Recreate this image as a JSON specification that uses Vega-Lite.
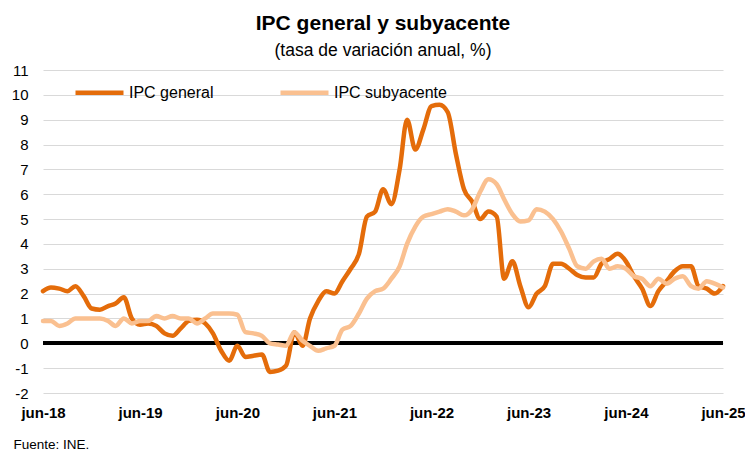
{
  "$schema": "https://vega.github.io/schema/vega-lite/v6.json",
  "width": 680,
  "height": 323,
  "autosize": "none",
  "padding": {"left": 43, "top": 70, "right": 22, "bottom": 59},
  "background": "white",
  "config": {"font": "Liberation Sans", "view": {"stroke": null}},
  "title": {
    "text": "IPC general y subyacente",
    "subtitle": "(tasa de variación anual, %)",
    "anchor": "middle",
    "fontSize": 21,
    "fontWeight": "bold",
    "color": "#000",
    "subtitleFontSize": 17.5,
    "subtitleColor": "#000",
    "subtitlePadding": 8,
    "offset": 4
  },
  "data": {
    "values": [
      {"fecha": "2018-06-01", "IPC general": 2.1, "IPC subyacente": 0.9},
      {"fecha": "2018-07-01", "IPC general": 2.25, "IPC subyacente": 0.9},
      {"fecha": "2018-08-01", "IPC general": 2.2, "IPC subyacente": 0.7},
      {"fecha": "2018-09-01", "IPC general": 2.1, "IPC subyacente": 0.8},
      {"fecha": "2018-10-01", "IPC general": 2.3, "IPC subyacente": 1.0},
      {"fecha": "2018-11-01", "IPC general": 1.9, "IPC subyacente": 1.0},
      {"fecha": "2018-12-01", "IPC general": 1.4, "IPC subyacente": 1.0},
      {"fecha": "2019-01-01", "IPC general": 1.35, "IPC subyacente": 1.0},
      {"fecha": "2019-02-01", "IPC general": 1.5, "IPC subyacente": 0.9},
      {"fecha": "2019-03-01", "IPC general": 1.6, "IPC subyacente": 0.7},
      {"fecha": "2019-04-01", "IPC general": 1.85, "IPC subyacente": 1.0},
      {"fecha": "2019-05-01", "IPC general": 1.0, "IPC subyacente": 0.8},
      {"fecha": "2019-06-01", "IPC general": 0.75, "IPC subyacente": 0.9},
      {"fecha": "2019-07-01", "IPC general": 0.8, "IPC subyacente": 0.9},
      {"fecha": "2019-08-01", "IPC general": 0.7, "IPC subyacente": 1.1},
      {"fecha": "2019-09-01", "IPC general": 0.4, "IPC subyacente": 1.0},
      {"fecha": "2019-10-01", "IPC general": 0.3, "IPC subyacente": 1.1},
      {"fecha": "2019-11-01", "IPC general": 0.6, "IPC subyacente": 1.0},
      {"fecha": "2019-12-01", "IPC general": 0.9, "IPC subyacente": 1.0},
      {"fecha": "2020-01-01", "IPC general": 0.95, "IPC subyacente": 0.8},
      {"fecha": "2020-02-01", "IPC general": 0.8, "IPC subyacente": 1.0},
      {"fecha": "2020-03-01", "IPC general": 0.4, "IPC subyacente": 1.2},
      {"fecha": "2020-04-01", "IPC general": -0.3, "IPC subyacente": 1.2},
      {"fecha": "2020-05-01", "IPC general": -0.7, "IPC subyacente": 1.2},
      {"fecha": "2020-06-01", "IPC general": -0.1, "IPC subyacente": 1.15},
      {"fecha": "2020-07-01", "IPC general": -0.55, "IPC subyacente": 0.45},
      {"fecha": "2020-08-01", "IPC general": -0.5, "IPC subyacente": 0.4},
      {"fecha": "2020-09-01", "IPC general": -0.45, "IPC subyacente": 0.3},
      {"fecha": "2020-10-01", "IPC general": -1.15, "IPC subyacente": 0.0},
      {"fecha": "2020-11-01", "IPC general": -1.1, "IPC subyacente": -0.05},
      {"fecha": "2020-12-01", "IPC general": -0.9, "IPC subyacente": -0.1},
      {"fecha": "2021-01-01", "IPC general": 0.45, "IPC subyacente": 0.45},
      {"fecha": "2021-02-01", "IPC general": -0.1, "IPC subyacente": 0.1},
      {"fecha": "2021-03-01", "IPC general": 1.0, "IPC subyacente": -0.1},
      {"fecha": "2021-04-01", "IPC general": 1.7, "IPC subyacente": -0.3},
      {"fecha": "2021-05-01", "IPC general": 2.1, "IPC subyacente": -0.2},
      {"fecha": "2021-06-01", "IPC general": 2.0, "IPC subyacente": -0.1},
      {"fecha": "2021-07-01", "IPC general": 2.5, "IPC subyacente": 0.55},
      {"fecha": "2021-08-01", "IPC general": 3.0, "IPC subyacente": 0.7},
      {"fecha": "2021-09-01", "IPC general": 3.6, "IPC subyacente": 1.2},
      {"fecha": "2021-10-01", "IPC general": 5.1, "IPC subyacente": 1.8},
      {"fecha": "2021-11-01", "IPC general": 5.3, "IPC subyacente": 2.1},
      {"fecha": "2021-12-01", "IPC general": 6.2, "IPC subyacente": 2.2},
      {"fecha": "2022-01-01", "IPC general": 5.6, "IPC subyacente": 2.6},
      {"fecha": "2022-02-01", "IPC general": 7.0, "IPC subyacente": 3.1},
      {"fecha": "2022-03-01", "IPC general": 9.0, "IPC subyacente": 4.0},
      {"fecha": "2022-04-01", "IPC general": 7.8, "IPC subyacente": 4.7},
      {"fecha": "2022-05-01", "IPC general": 8.6, "IPC subyacente": 5.1},
      {"fecha": "2022-06-01", "IPC general": 9.55, "IPC subyacente": 5.2},
      {"fecha": "2022-07-01", "IPC general": 9.6, "IPC subyacente": 5.3},
      {"fecha": "2022-08-01", "IPC general": 9.3, "IPC subyacente": 5.4},
      {"fecha": "2022-09-01", "IPC general": 7.6, "IPC subyacente": 5.3},
      {"fecha": "2022-10-01", "IPC general": 6.2, "IPC subyacente": 5.15},
      {"fecha": "2022-11-01", "IPC general": 5.7, "IPC subyacente": 5.4},
      {"fecha": "2022-12-01", "IPC general": 5.0, "IPC subyacente": 6.1},
      {"fecha": "2023-01-01", "IPC general": 5.3, "IPC subyacente": 6.6},
      {"fecha": "2023-02-01", "IPC general": 5.1, "IPC subyacente": 6.4},
      {"fecha": "2023-03-01", "IPC general": 2.6, "IPC subyacente": 5.8},
      {"fecha": "2023-04-01", "IPC general": 3.3, "IPC subyacente": 5.2},
      {"fecha": "2023-05-01", "IPC general": 2.3, "IPC subyacente": 4.9},
      {"fecha": "2023-06-01", "IPC general": 1.45, "IPC subyacente": 4.95},
      {"fecha": "2023-07-01", "IPC general": 2.0, "IPC subyacente": 5.4},
      {"fecha": "2023-08-01", "IPC general": 2.3, "IPC subyacente": 5.3},
      {"fecha": "2023-09-01", "IPC general": 3.2, "IPC subyacente": 5.0},
      {"fecha": "2023-10-01", "IPC general": 3.2, "IPC subyacente": 4.5},
      {"fecha": "2023-11-01", "IPC general": 3.0, "IPC subyacente": 3.8},
      {"fecha": "2023-12-01", "IPC general": 2.75, "IPC subyacente": 3.1},
      {"fecha": "2024-01-01", "IPC general": 2.65, "IPC subyacente": 3.0},
      {"fecha": "2024-02-01", "IPC general": 2.65, "IPC subyacente": 3.3},
      {"fecha": "2024-03-01", "IPC general": 3.2, "IPC subyacente": 3.4},
      {"fecha": "2024-04-01", "IPC general": 3.4, "IPC subyacente": 3.0},
      {"fecha": "2024-05-01", "IPC general": 3.6, "IPC subyacente": 3.1},
      {"fecha": "2024-06-01", "IPC general": 3.3, "IPC subyacente": 3.0},
      {"fecha": "2024-07-01", "IPC general": 2.7, "IPC subyacente": 2.7},
      {"fecha": "2024-08-01", "IPC general": 2.2, "IPC subyacente": 2.6},
      {"fecha": "2024-09-01", "IPC general": 1.5, "IPC subyacente": 2.3},
      {"fecha": "2024-10-01", "IPC general": 2.1, "IPC subyacente": 2.6},
      {"fecha": "2024-11-01", "IPC general": 2.5, "IPC subyacente": 2.4},
      {"fecha": "2024-12-01", "IPC general": 2.9, "IPC subyacente": 2.6},
      {"fecha": "2025-01-01", "IPC general": 3.1, "IPC subyacente": 2.7},
      {"fecha": "2025-02-01", "IPC general": 3.1, "IPC subyacente": 2.3},
      {"fecha": "2025-03-01", "IPC general": 2.3, "IPC subyacente": 2.2},
      {"fecha": "2025-04-01", "IPC general": 2.2, "IPC subyacente": 2.5},
      {"fecha": "2025-05-01", "IPC general": 2.0, "IPC subyacente": 2.4},
      {"fecha": "2025-06-01", "IPC general": 2.3, "IPC subyacente": 2.25}
    ]
  },
  "transform": [{"fold": ["IPC general", "IPC subyacente"], "as": ["serie", "valor"]}],
  "layer": [
    {
      "mark": {"type": "rule", "color": "#000", "strokeWidth": 3},
      "encoding": {
        "y": {
          "datum": 0,
          "type": "quantitative",
          "scale": {"domain": [-2, 11], "nice": false},
          "axis": {
            "values": [-2, -1, 0, 1, 2, 3, 4, 5, 6, 7, 8, 9, 10, 11],
            "labelExpr": "datum.value < 0 ? '-' + abs(datum.value) : '' + datum.value",
            "labelOverlap": false,
            "grid": true,
            "gridColor": "#d9d9d9",
            "gridWidth": 1.2,
            "ticks": false,
            "domain": false,
            "labelFontSize": 15,
            "labelColor": "#000",
            "labelPadding": 15,
            "title": null
          }
        }
      }
    },
    {
      "mark": {"type": "line", "strokeWidth": 4.5, "interpolate": "monotone", "strokeCap": "round", "strokeJoin": "round"},
      "encoding": {
        "x": {
          "field": "fecha",
          "type": "temporal",
          "scale": {"type": "utc", "domain": [{"year": 2018, "month": 6, "date": 1, "utc": true}, {"year": 2025, "month": 6, "date": 1, "utc": true}]},
          "axis": {
            "values": [
              {"year": 2018, "month": 6, "date": 1, "utc": true},
              {"year": 2019, "month": 6, "date": 1, "utc": true},
              {"year": 2020, "month": 6, "date": 1, "utc": true},
              {"year": 2021, "month": 6, "date": 1, "utc": true},
              {"year": 2022, "month": 6, "date": 1, "utc": true},
              {"year": 2023, "month": 6, "date": 1, "utc": true},
              {"year": 2024, "month": 6, "date": 1, "utc": true},
              {"year": 2025, "month": 6, "date": 1, "utc": true}
            ],
            "labelExpr": "'jun-' + utcFormat(datum.value, '%y')",
            "labelFontWeight": "bold",
            "labelFontSize": 15,
            "labelColor": "#000",
            "labelFlush": false,
            "labelOverlap": false,
            "labelPadding": 12,
            "ticks": false,
            "domain": false,
            "grid": false,
            "title": "Fuente: INE.",
            "titleFontSize": 13.5,
            "titleFontWeight": "normal",
            "titleColor": "#000",
            "titleAnchor": "start",
            "titleAlign": "left",
            "titleBaseline": "middle",
            "titleX": -30,
            "titleY": 51
          }
        },
        "y": {
          "field": "valor",
          "type": "quantitative",
          "scale": {"domain": [-2, 11], "nice": false},
          "axis": {
            "values": [-2, -1, 0, 1, 2, 3, 4, 5, 6, 7, 8, 9, 10, 11],
            "labelExpr": "datum.value < 0 ? '-' + abs(datum.value) : '' + datum.value",
            "labelOverlap": false,
            "grid": true,
            "gridColor": "#d9d9d9",
            "gridWidth": 1.2,
            "ticks": false,
            "domain": false,
            "labelFontSize": 15,
            "labelColor": "#000",
            "labelPadding": 15,
            "title": null
          }
        },
        "color": {
          "field": "serie",
          "type": "nominal",
          "scale": {"domain": ["IPC general", "IPC subyacente"], "range": ["#E46C0A", "#FAC090"]},
          "legend": {
            "orient": "none",
            "legendX": 30,
            "legendY": -4,
            "direction": "horizontal",
            "title": null,
            "symbolType": "stroke",
            "symbolSize": 2304,
            "symbolStrokeWidth": 4.5,
            "labelFontSize": 16,
            "labelColor": "#000",
            "labelOffset": 3,
            "columnPadding": 57,
            "padding": 0
          }
        }
      }
    }
  ]
}
